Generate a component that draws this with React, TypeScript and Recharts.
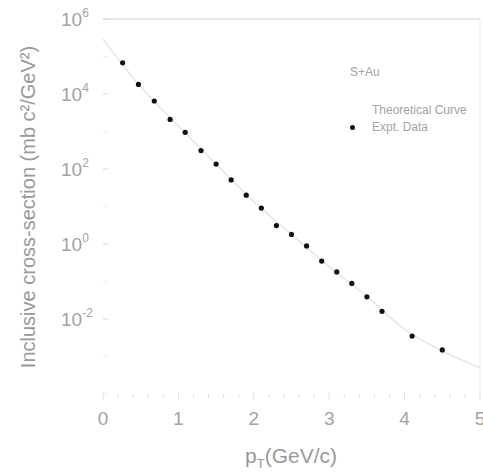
import React from 'react'
import { ComposedChart, Line, Scatter, XAxis, YAxis, ReferenceLine } from 'recharts'

// measured points (S+Au)
const ptValues = [0.26, 0.47, 0.68, 0.89, 1.09, 1.3, 1.5, 1.7, 1.9, 2.1, 2.3, 2.5, 2.7, 2.9, 3.1, 3.3, 3.5, 3.7, 4.1, 4.5]
const crossSection = [6.8e4, 1.8e4, 6.5e3, 2.1e3, 950, 310, 135, 51, 20, 9.1, 3.1, 1.8, 0.89, 0.35, 0.18, 0.089, 0.039, 0.016, 0.0035, 0.0015]

// theoretical curve
const curvePt = [0, 0.5, 1, 1.5, 2, 2.5, 3, 3.5, 4, 4.5, 5]
const curveValues = [2.9e5, 1.55e4, 1.4e3, 135, 13.5, 1.8, 0.25, 0.04, 0.0053, 0.0014, 5e-4]

const xTicks = [0, 0.2, 0.4, 0.6, 0.8, 1, 1.2, 1.4, 1.6, 1.8, 2, 2.2, 2.4, 2.6, 2.8, 3, 3.2, 3.4, 3.6, 3.8, 4, 4.2, 4.4, 4.6, 4.8, 5]
const yTicks = [1e-4, 1e-3, 1e-2, 1e-1, 1, 10, 100, 1e3, 1e4, 1e5, 1e6]

const points = ptValues.map((x, i) => ({ x, y: crossSection[i] }))
const curve = curvePt.map((x, i) => ({ x, y: curveValues[i] }))

const FONT = '"Liberation Sans", Arial, sans-serif'
const TEXT = '#a3a3a3'

function YTick(props: any) {
  const { y, payload } = props
  const exp = Math.round(Math.log10(payload.value))
  const labeled = exp % 2 === 0 && exp > -4
  return (
    <g>
      <line x1={103} x2={108} y1={y} y2={y} stroke={labeled ? '#d8d8d8' : '#eeeeee'} />
      {labeled && (
        <text x={61} y={y + 7} fill={TEXT} fontSize={19} fontFamily={FONT} textAnchor="start">
          10
          <tspan dy={-9} fontSize={12}>{exp}</tspan>
        </text>
      )}
    </g>
  )
}

function XTick(props: any) {
  const { x, y, payload } = props
  const v = payload.value
  const major = Math.abs(v - Math.round(v)) < 1e-6
  return (
    <g>
      <line x1={x} x2={x} y1={y - (major ? 4 : 2)} y2={y + (major ? 4 : 2)} stroke="#e2e2e2" />
      {major && (
        <text x={x} y={y + 29} fill={TEXT} fontSize={19} fontFamily={FONT} textAnchor="middle">
          {Math.round(v)}
        </text>
      )}
    </g>
  )
}

function Dot(props: any) {
  const { cx, cy } = props
  return <circle cx={cx} cy={cy} r={2.6} fill="#111" />
}

export default function App() {
  return (
    <div style={{ position: 'absolute', left: 0, top: 0, width: 483, height: 473, background: '#fff' }}>
      <ComposedChart width={483} height={473} margin={{ top: 19, right: 3, bottom: 0, left: 0 }}>
        <XAxis
          dataKey="x"
          type="number"
          domain={[0, 5]}
          ticks={xTicks}
          interval={0}
          height={79}
          axisLine={false}
          tickLine={false}
          tickSize={0}
          tick={(p: any) => <XTick {...p} />}
          label={{
            content: () => (
              <text x={291} y={463} fill="#999" fontSize={21} fontFamily={FONT} textAnchor="middle">
                p<tspan dy={5} fontSize={13}>T</tspan>
                <tspan dy={-5}>(GeV/c)</tspan>
              </text>
            ),
          }}
        />
        <YAxis
          dataKey="y"
          type="number"
          scale="log"
          domain={[1e-4, 1e6]}
          allowDataOverflow
          ticks={yTicks}
          interval={0}
          width={103}
          axisLine={false}
          tickLine={false}
          tickSize={0}
          tick={(p: any) => <YTick {...p} />}
          label={{
            content: () => (
              <text
                x={35}
                y={207}
                fill="#999"
                fontSize={20}
                fontFamily={FONT}
                textAnchor="middle"
                transform="rotate(-90, 35, 207)"
              >
                Inclusive cross-section (mb c²/GeV²)
              </text>
            ),
          }}
        />
        <ReferenceLine y={1e6} stroke="#cfcfcf" />
        <ReferenceLine x={5} stroke="#e8e8e8" />
        <Line
          data={curve}
          dataKey="y"
          type="monotone"
          stroke="#e6e6e6"
          strokeWidth={1.5}
          dot={false}
          activeDot={false}
          isAnimationActive={false}
        />
        <Scatter data={points} dataKey="y" shape={<Dot />} isAnimationActive={false} />
      </ComposedChart>
      <div style={{ position: 'absolute', left: 350, top: 64, fontFamily: FONT, fontSize: 12, color: TEXT, lineHeight: '17px' }}>
        <div>S+Au</div>
        <div style={{ marginTop: 21, marginLeft: 22 }}>Theoretical Curve</div>
        <div style={{ position: 'relative', marginLeft: 22 }}>
          <span
            style={{ position: 'absolute', left: -22, top: 6, width: 5, height: 5, borderRadius: '50%', background: '#111' }}
          />
          Expt. Data
        </div>
      </div>
    </div>
  )
}
